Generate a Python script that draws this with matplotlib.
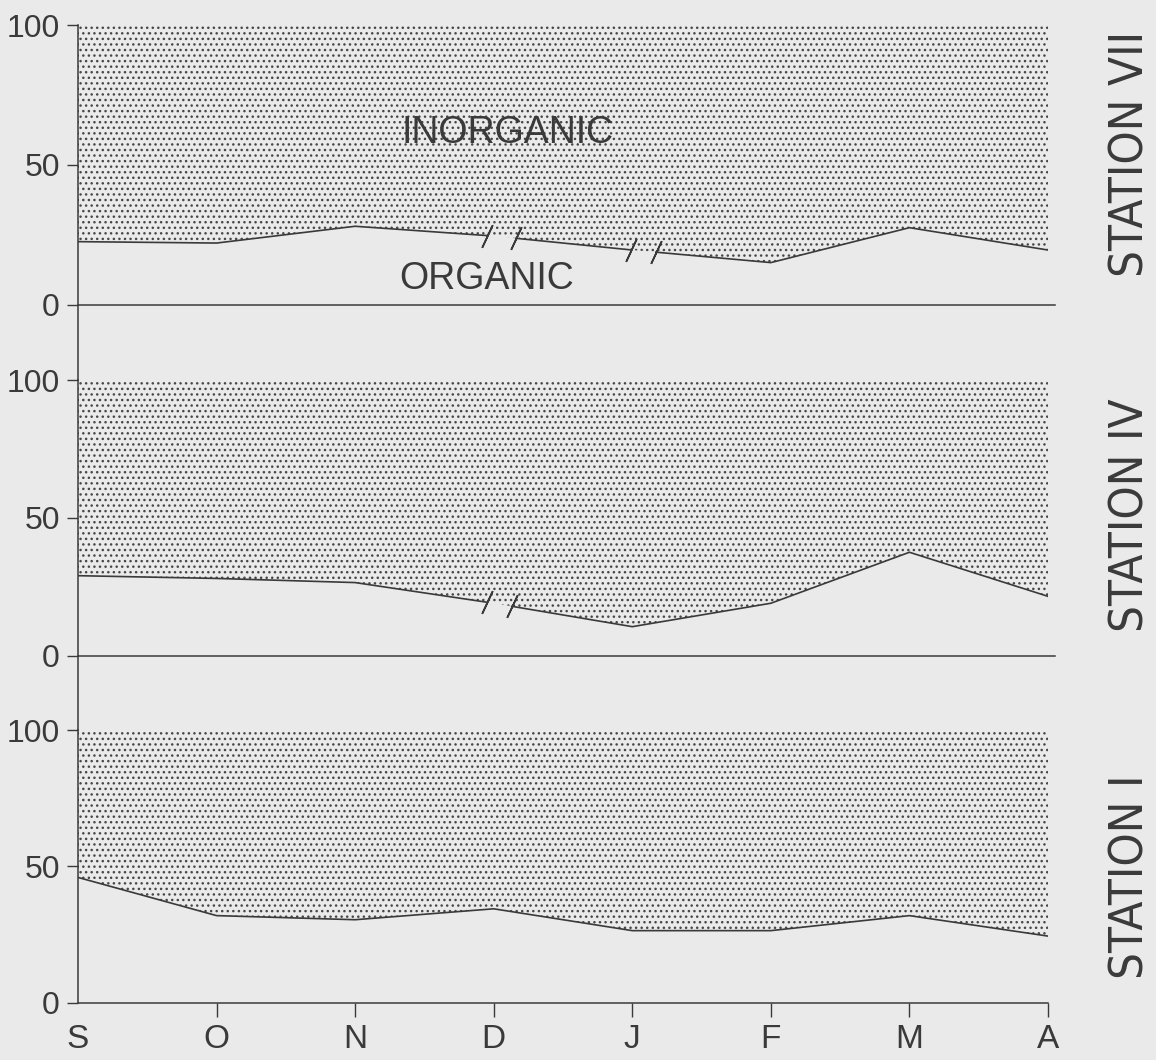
import numpy as np
import matplotlib.pyplot as plt
from matplotlib import font_manager

plt.rcParams['font.family'] = ['Liberation Sans', 'DejaVu Sans']
plt.rcParams['hatch.linewidth'] = 1.0

# Organic fraction (%) per month; rest up to 100 is inorganic
months = ["S", "O", "N", "D", "J", "F", "M", "A"]
station_vii = [22.5, 22, 28, 24.5, 19.5, 15, 27.5, 19.5]
station_iv = [29, 28, 26.5, 19, 10.5, 19, 37.5, 21.5]
station_i = [46, 32, 30.5, 34.5, 26.5, 26.5, 32, 24.5]
stations = ["STATION VII", "STATION IV", "STATION I"]

# breaks in the organic line (month positions), drawn as // marks
breaks_vii = [(2.95, 3.16), (3.99, 4.17)]
breaks_iv = [(2.95, 3.13)]
breaks_i = []

paper = "#eaeaea"
ink = "#3a3a3a"
dots = "#474747"

x = np.arange(len(months))


def narrow_font():
    # look for any installed condensed sans face for the station labels
    narrow = []
    for f in font_manager.fontManager.ttflist:
        if f.style != "normal" or f.weight not in (400, "normal", "regular", "book"):
            continue
        if "Mono" in f.name or "Serif" in f.name or "CJK" in f.name:
            continue
        if f.stretch in ("condensed", "semi-condensed", "extra-condensed") \
                or "Narrow" in f.name or "Condensed" in f.name:
            narrow.append(f)
    if narrow:
        return font_manager.FontProperties(fname=narrow[0].fname, size=34)
    return font_manager.FontProperties(family="Liberation Sans", size=30)


fig = plt.figure(figsize=(11.56, 10.6), dpi=100, facecolor=paper)
left, width = 78 / 1156, 970 / 1156
ax_top = fig.add_axes([left, 0.6415, width, 0.3349])
ax_mid = fig.add_axes([left, 0.3113, width, 0.3302])
ax_bot = fig.add_axes([left, 0.0538, width, 0.2575])


def draw_panel(ax, vals, breaks, last=False):
    vals = np.asarray(vals, dtype=float)
    ax.set_facecolor("none")
    ax.fill_between(x, vals, 100, facecolor="none", edgecolor=dots,
                    hatch="...", linewidth=0)
    # organic line, split at the breaks
    edges = [x[0]] + [b for br in breaks for b in br] + [x[-1]]
    for s, e in zip(edges[::2], edges[1::2]):
        inner = x[(x > s) & (x < e)]
        xs = np.concatenate([[s], inner, [e]])
        ys = np.interp(xs, x, vals)
        ax.plot(xs, ys, color=ink, lw=1.2, solid_joinstyle="miter")
    for br in breaks:
        for b in br:
            ax.plot(b, np.interp(b, x, vals), marker=(2, 2, -25), ms=18,
                    mew=1.2, color=ink)

    for side in ["top", "right"]:
        ax.spines[side].set_visible(False)
    ax.spines["left"].set_color(ink)
    ax.spines["left"].set_linewidth(1.1)
    ax.set_xlim(0, 7)
    ax.set_yticks([0, 50, 100])
    ax.set_yticklabels(["0", "50", "100"])
    ax.tick_params(axis="y", length=8, width=1, color=ink, labelcolor=ink,
                   labelsize=23, pad=5)
    if last:
        ax.set_ylim(0, 100)
        ax.spines["bottom"].set_color(ink)
        ax.spines["bottom"].set_linewidth(1.1)
        ax.set_xticks(x)
        ax.set_xticklabels(months)
        ax.tick_params(axis="x", length=10, width=1, color=ink,
                       labelcolor=ink, labelsize=24, pad=5)
        ax.xaxis.get_major_ticks()[0].tick1line.set_visible(False)
    else:
        ax.set_ylim(-27, 100)
        ax.spines["bottom"].set_visible(False)
        ax.tick_params(axis="x", bottom=False, labelbottom=False)
        ax.axhline(0, xmin=0, xmax=1.007, color=ink, lw=1.1, clip_on=False)


draw_panel(ax_top, station_vii, breaks_vii)
draw_panel(ax_mid, station_iv, breaks_iv)
draw_panel(ax_bot, station_i, breaks_i, last=True)

ax_top.text(3.1, 61.5, "INORGANIC", ha="center", va="center", fontsize=27,
            color=ink)
ax_top.text(2.95, 9, "ORGANIC", ha="center", va="center", fontsize=27,
            color=ink)

fp = narrow_font()
for label, yc in zip(stations, [0.855, 0.514, 0.173]):
    fig.text(0.978, yc, label, rotation=90, ha="center", va="center",
             fontproperties=fp, color=ink)

fig.savefig("out.png", dpi=100, facecolor=paper)
